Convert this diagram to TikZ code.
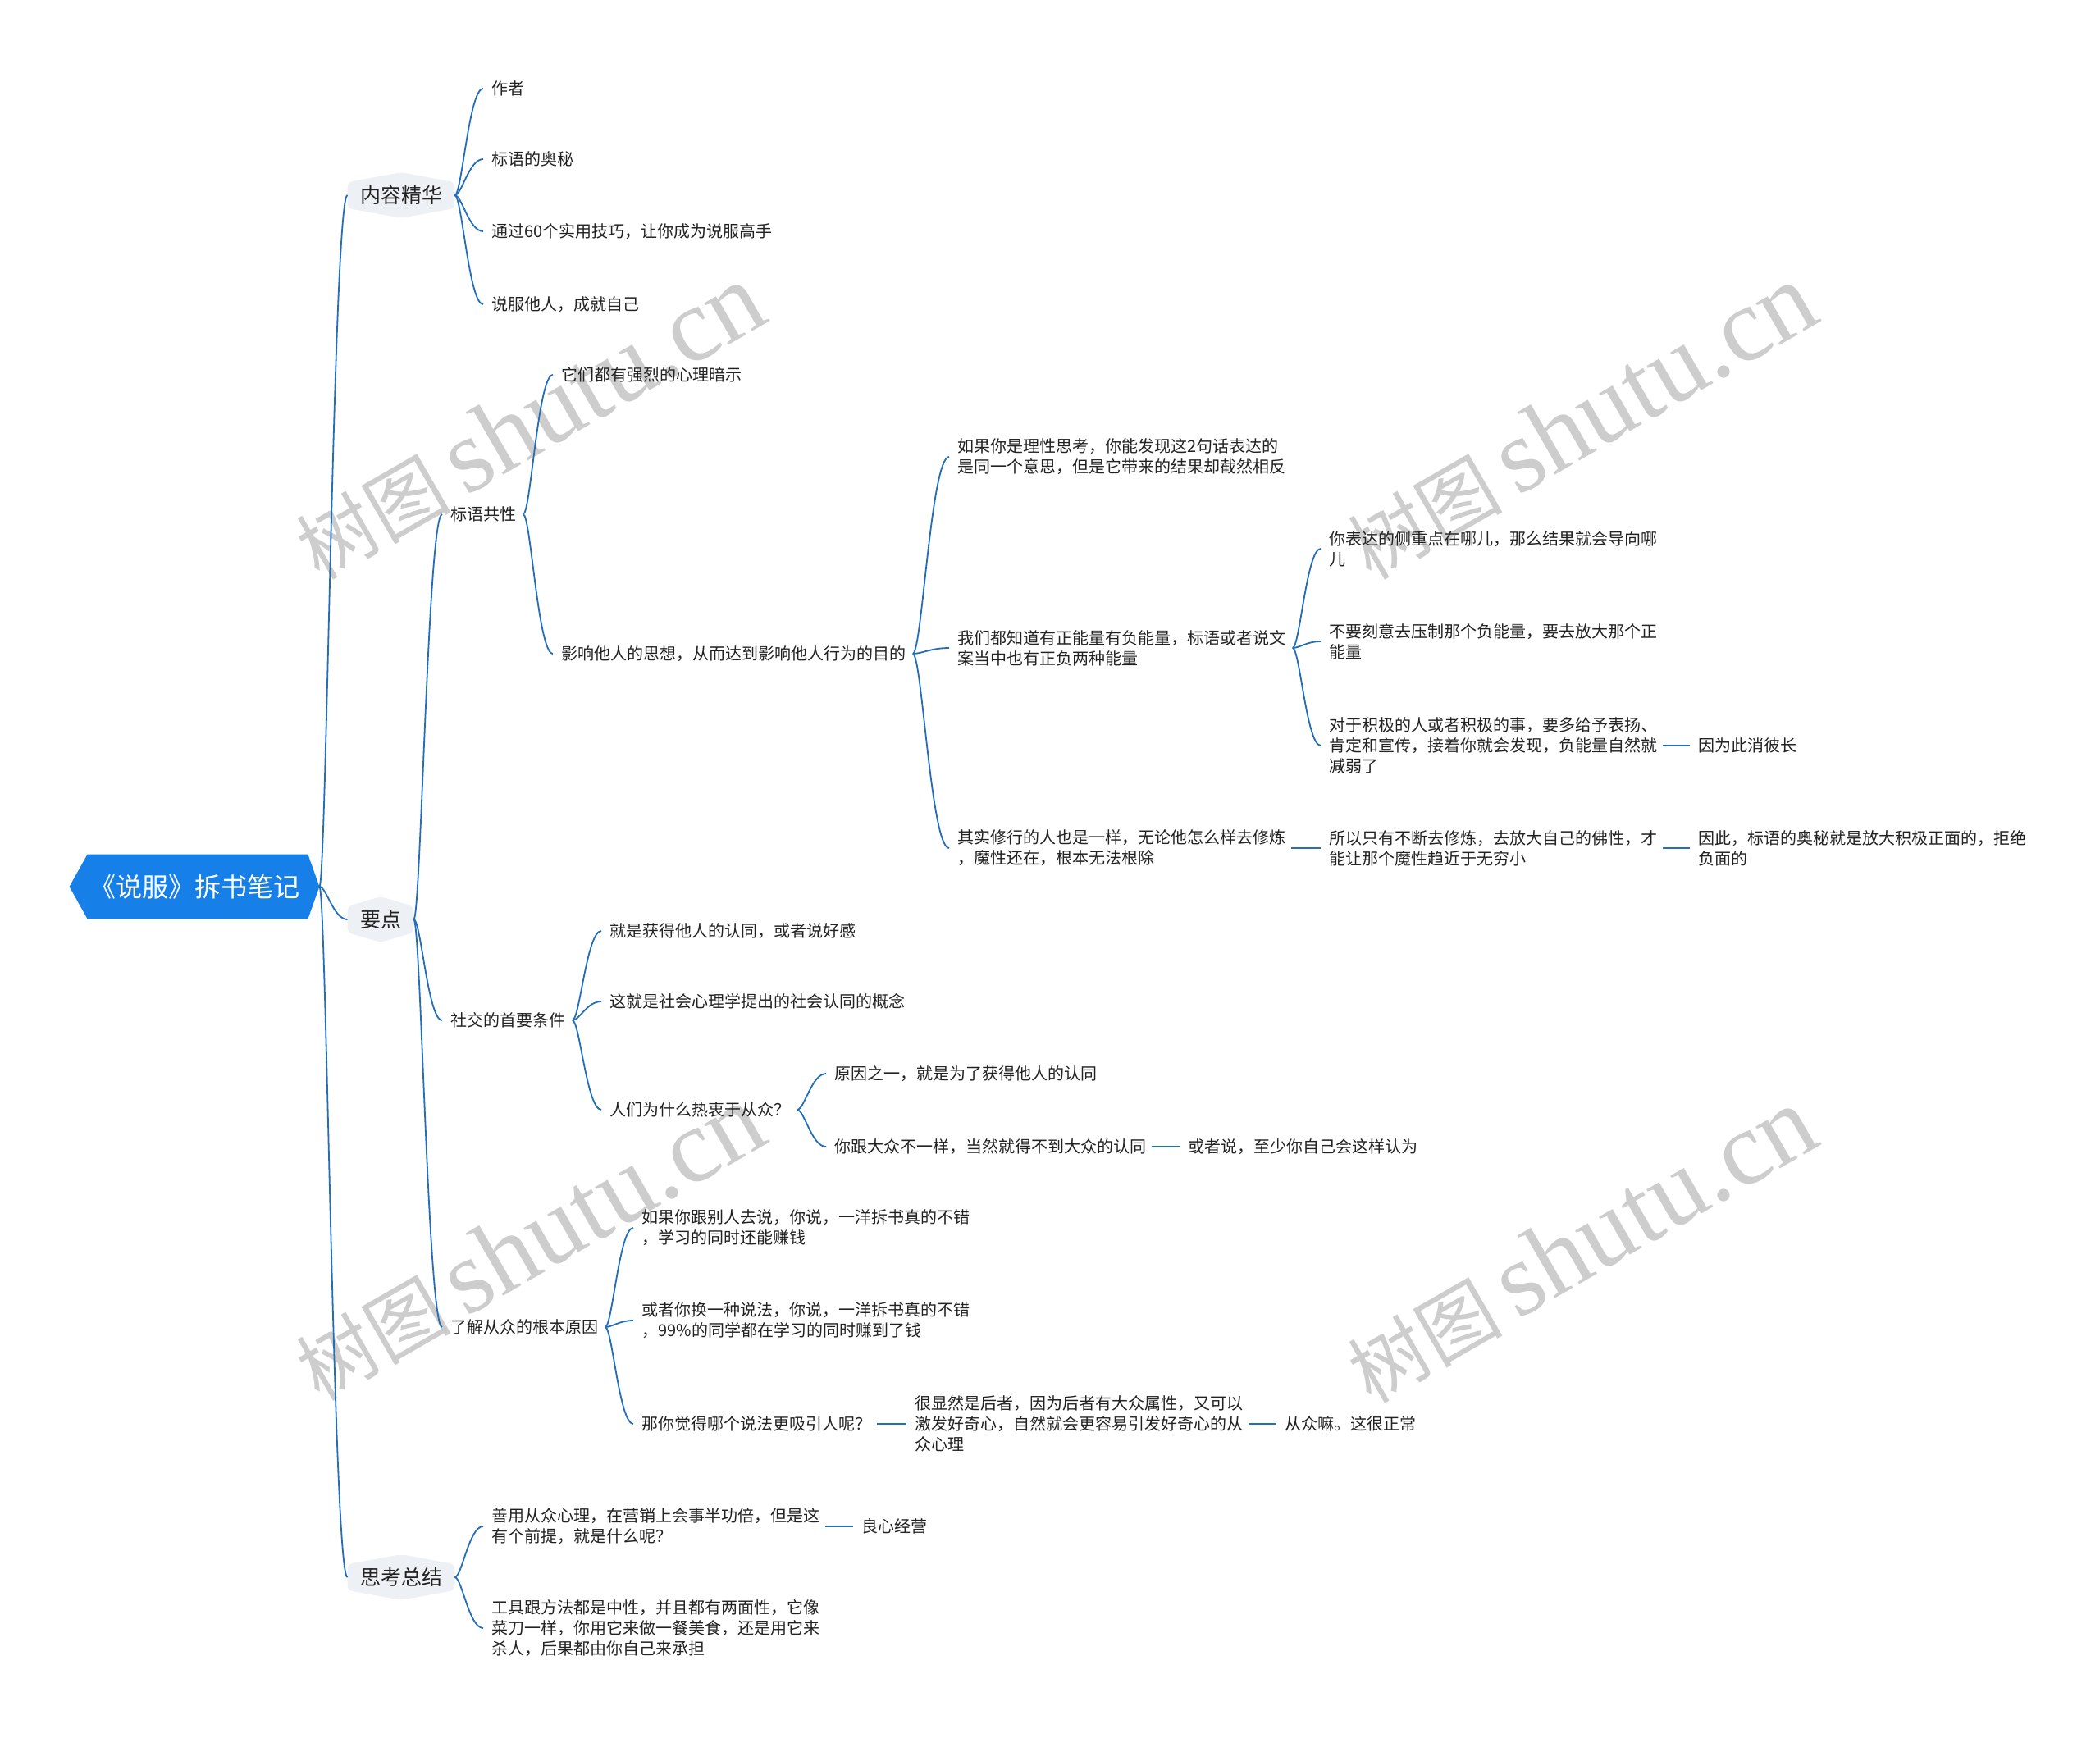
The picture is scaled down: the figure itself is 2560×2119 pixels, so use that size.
\documentclass[tikz,border=0pt]{standalone}
\usepackage{fontspec}
\newfontfamily\cjk{Noto Sans CJK SC}
\newfontfamily\wmlat{Liberation Serif}
\usetikzlibrary{calc,backgrounds}
\definecolor{lc}{RGB}{35,110,185}
\definecolor{rootc}{RGB}{22,128,232}
\definecolor{lonec}{RGB}{237,240,244}
\definecolor{tc}{RGB}{34,34,34}
\definecolor{wm}{RGB}{205,205,205}
\newcommand\cv[2]{\draw[conn] let \p1=(#1), \p2=(#2) in (\p1) .. controls ({\x1+0.25*(\x2-\x1)},\y1) and ({\x1+0.5*(\x2-\x1)},\y2) .. (\p2);}
\newcommand\cc[2]{\cv{$(#1.east)+(4pt,0)$}{$(#2.west)+(-5pt,0)$}}
\newcommand\stl[2]{\draw[sconn] ($(#1.east)+(3pt,0)$) -- ($(#2.west)+(-5pt,0)$);}
\newcommand\wmtext{{\cjk\fontsize{47pt}{50pt}\selectfont 树图}\hspace{9pt}{\wmlat\fontsize{64pt}{68pt}\selectfont shutu.cn}}
\begin{document}
\begin{tikzpicture}[x=0.5pt,y=-0.5pt,
  txt/.style={font=\cjk\fontsize{10pt}{12.5pt}\selectfont, text=tc, align=left, inner sep=0pt, anchor=west},
  lone/.style={font=\cjk\fontsize{12.5pt}{15pt}\selectfont, text=tc, inner xsep=7.5pt, inner ysep=0pt, minimum height=27.5pt},
  rootn/.style={font=\cjk\fontsize{16pt}{19pt}\selectfont, text=white, minimum width=152pt, minimum height=39pt, inner sep=0pt},
  conn/.style={draw=lc, line width=0.9pt},
  sconn/.style={draw=lc, line width=1.2pt},
  wmk/.style={text=wm, rotate=30, inner sep=0pt}]
\useasboundingbox (0,0) rectangle (2560,2119);

% root and level 1
\node[rootn] (r) at (237,1081) {《说服》拆书笔记};
\node[lone] (k1) at (489,238) {内容精华};
\node[lone] (k2) at (464,1121) {要点};
\node[lone] (k3) at (489,1923) {思考总结};

\begin{scope}[on background layer]
\fill[white] (0,0) rectangle (2560,2119);
% watermarks
\node[wmk] (w1) at (645,514) {\wmtext};
\node[wmk] (w2) at (1927,514) {\wmtext};
\node[wmk] (w3) at (645,1515) {\wmtext};
\node[wmk] (w4) at (1927,1518) {\wmtext};
\fill[rootc] (r.west) -- ([xshift=11pt]r.north west) -- ([xshift=-7pt]r.north east) -- (r.east) -- ([xshift=-7pt]r.south east) -- ([xshift=11pt]r.south west) -- cycle;
\foreach \n in {k1,k2,k3}
  \fill[lonec, rounded corners=3pt] ([yshift=-6pt]\n.north west) -- (\n.north) -- ([yshift=-6pt]\n.north east) -- ([yshift=6pt]\n.south east) -- (\n.south) -- ([yshift=6pt]\n.south west) -- cycle;
\end{scope}

% 内容精华
\node[txt] (n1) at (599,108) {作者};
\node[txt] (n2) at (599,194) {标语的奥秘};
\node[txt] (n3) at (599,282) {通过60个实用技巧，让你成为说服高手};
\node[txt] (n4) at (599,371) {说服他人，成就自己};

% 要点
\node[txt] (b1) at (549,627) {标语共性};
\node[txt] (b1a) at (684,457) {它们都有强烈的心理暗示};
\node[txt] (b1b) at (684,797) {影响他人的思想，从而达到影响他人行为的目的};
\node[txt] (c1) at (1167,557) {如果你是理性思考，你能发现这2句话表达的\\是同一个意思，但是它带来的结果却截然相反};
\node[txt] (c2) at (1167,790) {我们都知道有正能量有负能量，标语或者说文\\案当中也有正负两种能量};
\node[txt] (c3) at (1167,1034) {其实修行的人也是一样，无论他怎么样去修炼\\，魔性还在，根本无法根除};
\node[txt] (d1) at (1620,669) {你表达的侧重点在哪儿，那么结果就会导向哪\\儿};
\node[txt] (d2) at (1620,782) {不要刻意去压制那个负能量，要去放大那个正\\能量};
\node[txt] (d3) at (1620,909) {对于积极的人或者积极的事，要多给予表扬、\\肯定和宣传，接着你就会发现，负能量自然就\\减弱了};
\node[txt] (d3a) at (2070,909) {因为此消彼长};
\node[txt] (d4) at (1620,1034) {所以只有不断去修炼，去放大自己的佛性，才\\能让那个魔性趋近于无穷小};
\node[txt] (d4a) at (2070,1034) {因此，标语的奥秘就是放大积极正面的，拒绝\\负面的};

\node[txt] (b2) at (549,1244) {社交的首要条件};
\node[txt] (e1) at (743,1135) {就是获得他人的认同，或者说好感};
\node[txt] (e2) at (743,1221) {这就是社会心理学提出的社会认同的概念};
\node[txt] (e3) at (743,1353) {人们为什么热衷于从众？};
\node[txt] (e3a) at (1017,1309) {原因之一，就是为了获得他人的认同};
\node[txt] (e3b) at (1017,1398) {你跟大众不一样，当然就得不到大众的认同};
\node[txt] (e3c) at (1448,1398) {或者说，至少你自己会这样认为};

\node[txt] (b3) at (549,1618) {了解从众的根本原因};
\node[txt] (f1) at (782,1497) {如果你跟别人去说，你说，一洋拆书真的不错\\，学习的同时还能赚钱};
\node[txt] (f2) at (782,1610) {或者你换一种说法，你说，一洋拆书真的不错\\，99\%的同学都在学习的同时赚到了钱};
\node[txt] (f3) at (782,1736) {那你觉得哪个说法更吸引人呢？};
\node[txt] (f3a) at (1115,1736) {很显然是后者，因为后者有大众属性，又可以\\激发好奇心，自然就会更容易引发好奇心的从\\众心理};
\node[txt] (f3b) at (1566,1736) {从众嘛。这很正常};

% 思考总结
\node[txt] (g1) at (599,1861) {善用从众心理，在营销上会事半功倍，但是这\\有个前提，就是什么呢？};
\node[txt] (g1a) at (1050,1861) {良心经营};
\node[txt] (g2) at (599,1985) {工具跟方法都是中性，并且都有两面性，它像\\菜刀一样，你用它来做一餐美食，还是用它来\\杀人，后果都由你自己来承担};

% connectors
\cv{r.east}{k1.west}
\cv{r.east}{k2.west}
\cv{r.east}{k3.west}
\foreach \c in {n1,n2,n3,n4} {\cv{k1.east}{$(\c.west)+(-5pt,0)$}}
\foreach \c in {b1,b2,b3} {\cv{k2.east}{$(\c.west)+(-5pt,0)$}}
\foreach \c in {g1,g2} {\cv{k3.east}{$(\c.west)+(-5pt,0)$}}
\cc{b1}{b1a}
\cc{b1}{b1b}
\cc{b1b}{c1}
\cc{b1b}{c2}
\cc{b1b}{c3}
\cc{c2}{d1}
\cc{c2}{d2}
\cc{c2}{d3}
\stl{d3}{d3a}
\stl{c3}{d4}
\stl{d4}{d4a}
\cc{b2}{e1}
\cc{b2}{e2}
\cc{b2}{e3}
\cc{e3}{e3a}
\cc{e3}{e3b}
\stl{e3b}{e3c}
\cc{b3}{f1}
\cc{b3}{f2}
\cc{b3}{f3}
\stl{f3}{f3a}
\stl{f3a}{f3b}
\stl{g1}{g1a}
\end{tikzpicture}
\end{document}
